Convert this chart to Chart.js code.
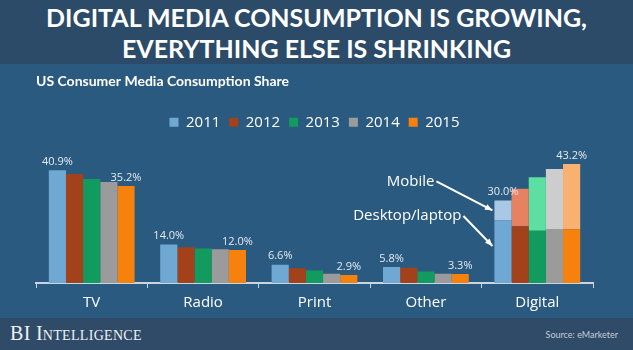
<!DOCTYPE html>
<html>
<head>
<meta charset="utf-8">
<script src="https://cdn.jsdelivr.net/npm/chart.js@4/dist/chart.umd.min.js"></script>
<style>
  body { margin: 0; width: 633px; height: 350px; overflow: hidden; font-family: Lato, "Open Sans", sans-serif; }
  #head { height: 64px; background: #2c4b69; color: #fff; text-align: center;
    font-weight: bold; font-size: 25px; line-height: 31px; padding-top: 2px; box-sizing: border-box; }
  #mid { height: 254px; background: #2a5a80; }
  #foot { height: 32px; background: #2f4b68; position: relative; }
  #brand { position: absolute; left: 10px; top: 4px; font-family: "Liberation Serif", "DejaVu Serif", serif;
    font-variant: small-caps; font-size: 20px; color: #eef2f6; letter-spacing: 0.3px; }
  #src { position: absolute; right: 15px; top: 11px; font-size: 9px; color: #c3cdd8; font-family: Lato, sans-serif; }
  canvas { display: block; }
</style>
</head>
<body>
<div id="head">DIGITAL MEDIA CONSUMPTION IS GROWING,<br>EVERYTHING ELSE IS SHRINKING</div>
<div id="mid"><canvas id="chart" width="633" height="254"></canvas></div>
<div id="foot"><span id="brand">BI Intelligence</span><span id="src">Source: eMarketer</span></div>
<script>
const categories = ["TV", "Radio", "Print", "Other", "Digital"];
const years = ["2011", "2012", "2013", "2014", "2015"];

// share by year; Digital value is the desktop/laptop part
const share2011 = [40.9, 14.0, 6.6, 5.8, 22.8];
const share2012 = [39.6, 13.0, 5.4, 5.5, 20.6];
const share2013 = [37.8, 12.5, 4.5, 4.2, 19.0];
const share2014 = [36.7, 12.3, 3.4, 3.4, 19.6];
const share2015 = [35.2, 12.0, 2.9, 3.3, 19.5];
const shares = [share2011, share2012, share2013, share2014, share2015];

// mobile part of Digital, one per year
const mobileShare = [7.2, 13.6, 19.4, 21.8, 23.7];

const baseColors = ["#6fa8d3", "#a3411b", "#129b5f", "#9b9b9b", "#f6820d"];
const mobileColors = ["#a8c8e3", "#e8815f", "#5ddfa2", "#cdcdcd", "#f8b171"];

const labelledYears = [0, 4];
const digitalIdx = categories.indexOf("Digital");

const datasets = [];
years.forEach((y, i) => {
  datasets.push({
    label: y,
    data: shares[i],
    stack: y,
    backgroundColor: baseColors[i],
  });
  datasets.push({
    label: y + " mobile",
    data: categories.map((c, k) => (k === digitalIdx ? mobileShare[i] : null)),
    stack: y,
    backgroundColor: mobileColors[i],
  });
});

const valueLabels = {
  id: "valueLabels",
  afterDatasetsDraw(chart) {
    const ctx = chart.ctx;
    ctx.save();
    ctx.font = "11px 'Open Sans', sans-serif";
    ctx.fillStyle = "#e4ebf2";
    ctx.textAlign = "center";
    ctx.textBaseline = "bottom";
    labelledYears.forEach((yi) => {
      categories.forEach((c, k) => {
        let el, total = shares[yi][k];
        if (k === digitalIdx) {
          el = chart.getDatasetMeta(yi * 2 + 1).data[k];
          total += mobileShare[yi];
        } else {
          el = chart.getDatasetMeta(yi * 2).data[k];
        }
        ctx.fillText(total.toFixed(1) + "%", el.x, el.y - 3);
      });
    });
    ctx.restore();
  },
};

function arrow(ctx, x0, y0, x1, y1) {
  ctx.beginPath();
  ctx.moveTo(x0, y0);
  ctx.lineTo(x1, y1);
  ctx.stroke();
  const a = Math.atan2(y1 - y0, x1 - x0);
  ctx.beginPath();
  ctx.moveTo(x1, y1);
  ctx.lineTo(x1 - 8 * Math.cos(a - 0.4), y1 - 8 * Math.sin(a - 0.4));
  ctx.lineTo(x1 - 8 * Math.cos(a + 0.4), y1 - 8 * Math.sin(a + 0.4));
  ctx.closePath();
  ctx.fill();
}

const digitalNotes = {
  id: "digitalNotes",
  afterDatasetsDraw(chart) {
    const ctx = chart.ctx;
    const desk = chart.getDatasetMeta(0).data[digitalIdx];
    const mob = chart.getDatasetMeta(1).data[digitalIdx];
    const left = desk.x - desk.width / 2 - 2;
    const mTip = { x: left, y: mob.y + (mob.base - mob.y) * 0.5 };
    const dTip = { x: left, y: desk.y + (desk.base - desk.y) * 0.41 };
    ctx.save();
    ctx.strokeStyle = "#ffffff";
    ctx.fillStyle = "#ffffff";
    ctx.lineWidth = 2;
    arrow(ctx, mTip.x - 56, mTip.y - 29, mTip.x, mTip.y);
    arrow(ctx, dTip.x - 29, dTip.y - 30, dTip.x, dTip.y);
    ctx.font = "15px 'Open Sans', sans-serif";
    ctx.textAlign = "right";
    ctx.textBaseline = "middle";
    ctx.fillText("Mobile", mTip.x - 58, mTip.y - 29);
    ctx.fillText("Desktop/laptop", dTip.x - 31, dTip.y - 30);
    ctx.restore();
  },
};

new Chart(document.getElementById("chart").getContext("2d"), {
  type: "bar",
  data: { labels: categories, datasets },
  options: {
    responsive: false,
    animation: false,
    layout: { padding: { left: 36, right: 40, top: 8, bottom: 0 } },
    datasets: { bar: { barPercentage: 1, categoryPercentage: 0.77 } },
    plugins: {
      tooltip: { enabled: false },
      title: {
        display: true,
        text: "US Consumer Media Consumption Share",
        align: "start",
        color: "#ffffff",
        font: { family: "Lato", size: 14, weight: "bold" },
        padding: { top: 1, bottom: 16 },
      },
      legend: {
        position: "top",
        labels: {
          filter: (item) => !item.text.includes("mobile"),
          boxWidth: 9,
          boxHeight: 9,
          padding: 9,
          color: "#ffffff",
          font: { family: "'Open Sans'", size: 15 },
        },
      },
    },
    scales: {
      x: {
        stacked: true,
        grid: { drawOnChartArea: false, drawTicks: true, tickLength: 5, color: "#c9d5e1" },
        border: { display: true, color: "#c9d5e1", width: 2 },
        ticks: { color: "#ffffff", padding: 6, font: { family: "'Open Sans'", size: 15 } },
      },
      y: {
        stacked: true,
        display: false,
        min: 0,
        max: 52,
      },
    },
  },
  plugins: [valueLabels, digitalNotes],
});
</script>
</body>
</html>
